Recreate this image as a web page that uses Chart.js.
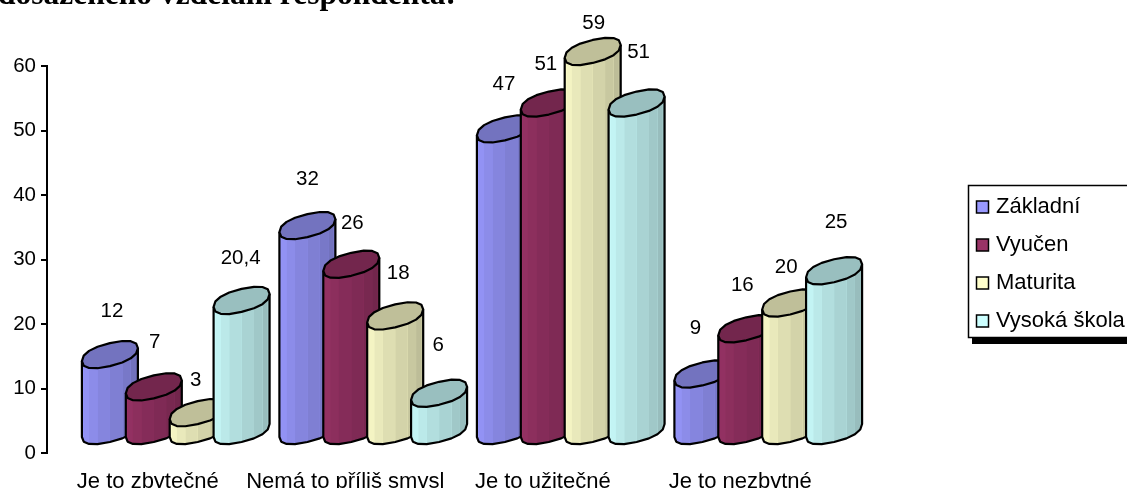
<!DOCTYPE html>
<html lang="cs">
<head>
<meta charset="utf-8">
<title>Dosažené vzdělání respondenta</title>
<script src="https://cdn.jsdelivr.net/npm/chart.js@4/dist/chart.umd.min.js"></script>
<style>
  html, body { margin: 0; padding: 0; background: #fff; overflow: hidden; }
  canvas { display: block; }
</style>
</head>
<body>
<canvas id="chart" width="1127" height="488"></canvas>
<script>
const categories = ["Je to zbytečné", "Nemá to příliš smysl", "Je to užitečné", "Je to nezbytné"];
const yTicks = [0, 10, 20, 30, 40, 50, 60];
const zakladni = [12, 32, 47, 9];
const vyucen = [7, 26, 51, 16];
const maturita = [3, 18, 59, 20];
const vysokaSkola = [20.4, 6, 51, 25];
const seriesNames = ["Základní", "Vyučen", "Maturita", "Vysoká škola"];
const seriesColors = ["#9999ff", "#993366", "#ffffcc", "#ccffff"];
const headingText = "dosaženého vzdělání respondenta:";

// Hand placement of the value labels around each column, per series and category.
const labelOffsets = [
  [[2, -30], [0, -33], [-1, -31], [-7, -32]],
  [[1, -31], [1, -27], [-3, -25], [-4, -30]],
  [[-2, -19], [3, -29], [1, -15], [-4, -22]],
  [[-1, -29], [-1, -34], [2, -37], [2, -35]]
];

const TEXT_FONT = '"Liberation Sans", Arial, sans-serif';
const NUMBER_SIZE = 20.5;
const WORD_SIZE = 22;

function shade(hex, k) {
  const n = parseInt(hex.slice(1), 16);
  const ch = s => Math.round(((n >> s) & 255) * k);
  return `rgb(${ch(16)},${ch(8)},${ch(0)})`;
}

// Faceted ring seen obliquely: the outline of the column caps and feet.
function ringPoint(cx, cy, t) {
  const soft = v => Math.sign(v) * Math.pow(Math.abs(v), 0.85);
  const u = soft(Math.cos(t)), v = soft(Math.sin(t));
  return [cx + 28 * u, cy - 6.5 * u - 11.5 * v];
}
const RING_STEPS = 16;

function drawColumn(ctx, cx, capY, baseY, color) {
  const stepAngle = 2 * Math.PI / RING_STEPS;
  const half = RING_STEPS / 2;

  const sideOutline = () => {
    ctx.beginPath();
    const start = ringPoint(cx, capY, Math.PI);
    ctx.moveTo(start[0], start[1]);
    for (let i = 0; i <= half; i++) {
      const p = ringPoint(cx, baseY, Math.PI + i * stepAngle);
      ctx.lineTo(p[0], p[1]);
    }
    const end = ringPoint(cx, capY, 0);
    ctx.lineTo(end[0], end[1]);
  };

  // Light underlay, so the seams between the strips read as pale lines.
  sideOutline();
  ctx.closePath();
  ctx.fillStyle = shade(color, 1);
  ctx.fill();

  // Visible side: strips from the left extreme, round the front, to the right extreme.
  for (let i = 0; i < half; i++) {
    const t0 = Math.PI + i * stepAngle;
    const t1 = t0 + stepAngle;
    const a = ringPoint(cx, capY, t0), b = ringPoint(cx, capY, t1);
    const c = ringPoint(cx, baseY, t1), d = ringPoint(cx, baseY, t0);
    ctx.beginPath();
    ctx.moveTo(a[0], a[1]); ctx.lineTo(b[0], b[1]); ctx.lineTo(c[0], c[1]); ctx.lineTo(d[0], d[1]);
    ctx.closePath();
    ctx.fillStyle = shade(color, 1 - 0.3 * i / (half - 1));
    ctx.fill();
  }

  sideOutline();
  ctx.strokeStyle = "#000";
  ctx.lineWidth = 2.2;
  ctx.lineJoin = "round";
  ctx.stroke();

  // Cap.
  ctx.beginPath();
  for (let i = 0; i < RING_STEPS; i++) {
    const p = ringPoint(cx, capY, i * stepAngle);
    if (i === 0) ctx.moveTo(p[0], p[1]); else ctx.lineTo(p[0], p[1]);
  }
  ctx.closePath();
  ctx.fillStyle = shade(color, 0.75);
  ctx.fill();
  ctx.stroke();
}

const columnsPlugin = {
  id: "columns",
  beforeDatasetDraw() { return false; },
  afterDatasetsDraw(chart) {
    const ctx = chart.ctx;
    const yScale = chart.scales.y;
    const labels = [];
    ctx.save();
    categories.forEach((_, c) => {
      chart.data.datasets.forEach((ds, s) => {
        const bar = chart.getDatasetMeta(s).data[c];
        const cx = bar.x + 30;
        const capY = bar.y - 21;
        const baseY = yScale.getPixelForValue(0) - 22.5;
        drawColumn(ctx, cx, capY, baseY, seriesColors[s]);
        const [dx, dy] = labelOffsets[s][c];
        labels.push({
          text: String(ds.data[c]).replace(".", ","),
          x: cx + dx,
          y: capY - 13.5 + dy
        });
      });
    });
    ctx.fillStyle = "#000";
    ctx.font = `${NUMBER_SIZE}px ${TEXT_FONT}`;
    ctx.textAlign = "center";
    ctx.textBaseline = "middle";
    labels.forEach(l => ctx.fillText(l.text, l.x, l.y));
    ctx.restore();
  }
};

// Boxed legend with a hard drop shadow running off the right edge.
const legendBoxPlugin = {
  id: "legendBox",
  afterDraw(chart) {
    const ctx = chart.ctx;
    ctx.save();
    ctx.fillStyle = "#000";
    ctx.fillRect(972, 337, 160, 7);
    ctx.fillStyle = "#fff";
    ctx.fillRect(968, 185, 164, 152);
    ctx.strokeStyle = "#000";
    ctx.lineWidth = 1.5;
    ctx.strokeRect(968.5, 185.5, 170, 152);
    ctx.font = `${WORD_SIZE}px ${TEXT_FONT}`;
    ctx.textBaseline = "middle";
    ctx.textAlign = "left";
    const rows = [207, 245, 283, 321];
    chart.data.datasets.forEach((ds, i) => {
      ctx.fillStyle = seriesColors[i];
      ctx.fillRect(976.5, rows[i] - 6, 12, 12);
      ctx.lineWidth = 1.5;
      ctx.strokeRect(976.5, rows[i] - 6, 12, 12);
      ctx.fillStyle = "#000";
      ctx.fillText(ds.label, 996, rows[i]);
    });
    ctx.restore();
  }
};

// Last line of the heading, which sits above the plot and runs off the top edge.
const headingPlugin = {
  id: "heading",
  afterDraw(chart) {
    const ctx = chart.ctx;
    ctx.save();
    ctx.fillStyle = "#000";
    ctx.font = 'bold 31.5px "Liberation Serif", "Times New Roman", serif';
    ctx.textAlign = "right";
    ctx.textBaseline = "alphabetic";
    ctx.fillText(headingText, 456, 4);
    ctx.restore();
  }
};

const seriesValues = [zakladni, vyucen, maturita, vysokaSkola];

new Chart(document.getElementById("chart"), {
  type: "bar",
  data: {
    labels: categories,
    datasets: seriesValues.map((values, i) => ({
      label: seriesNames[i],
      data: values,
      backgroundColor: seriesColors[i],
      categoryPercentage: 0.889,
      barPercentage: 1
    }))
  },
  plugins: [columnsPlugin, legendBoxPlugin, headingPlugin],
  options: {
    responsive: false,
    animation: false,
    layout: { padding: { top: 66, right: 290, left: 0, bottom: 0 } },
    plugins: { legend: { display: false }, title: { display: false }, tooltip: { enabled: false } },
    scales: {
      x: {
        afterFit(scale) { scale.height = 35; },
        grid: { display: false },
        border: { display: false },
        ticks: {
          autoSkip: false, maxRotation: 0, minRotation: 0, padding: 8, labelOffset: 2,
          color: "#000",
          font: { family: TEXT_FONT, size: WORD_SIZE }
        }
      },
      y: {
        min: yTicks[0],
        max: yTicks[yTicks.length - 1],
        afterFit(scale) { scale.width = 47; },
        afterBuildTicks(scale) { scale.ticks = yTicks.map(value => ({ value })); },
        border: { display: true, color: "#000", width: 2 },
        grid: { drawOnChartArea: false, drawTicks: true, tickLength: 6, color: "#000", lineWidth: 2 },
        ticks: {
          padding: 5,
          color: "#000",
          font: { family: TEXT_FONT, size: NUMBER_SIZE }
        }
      }
    }
  }
});
</script>
</body>
</html>
